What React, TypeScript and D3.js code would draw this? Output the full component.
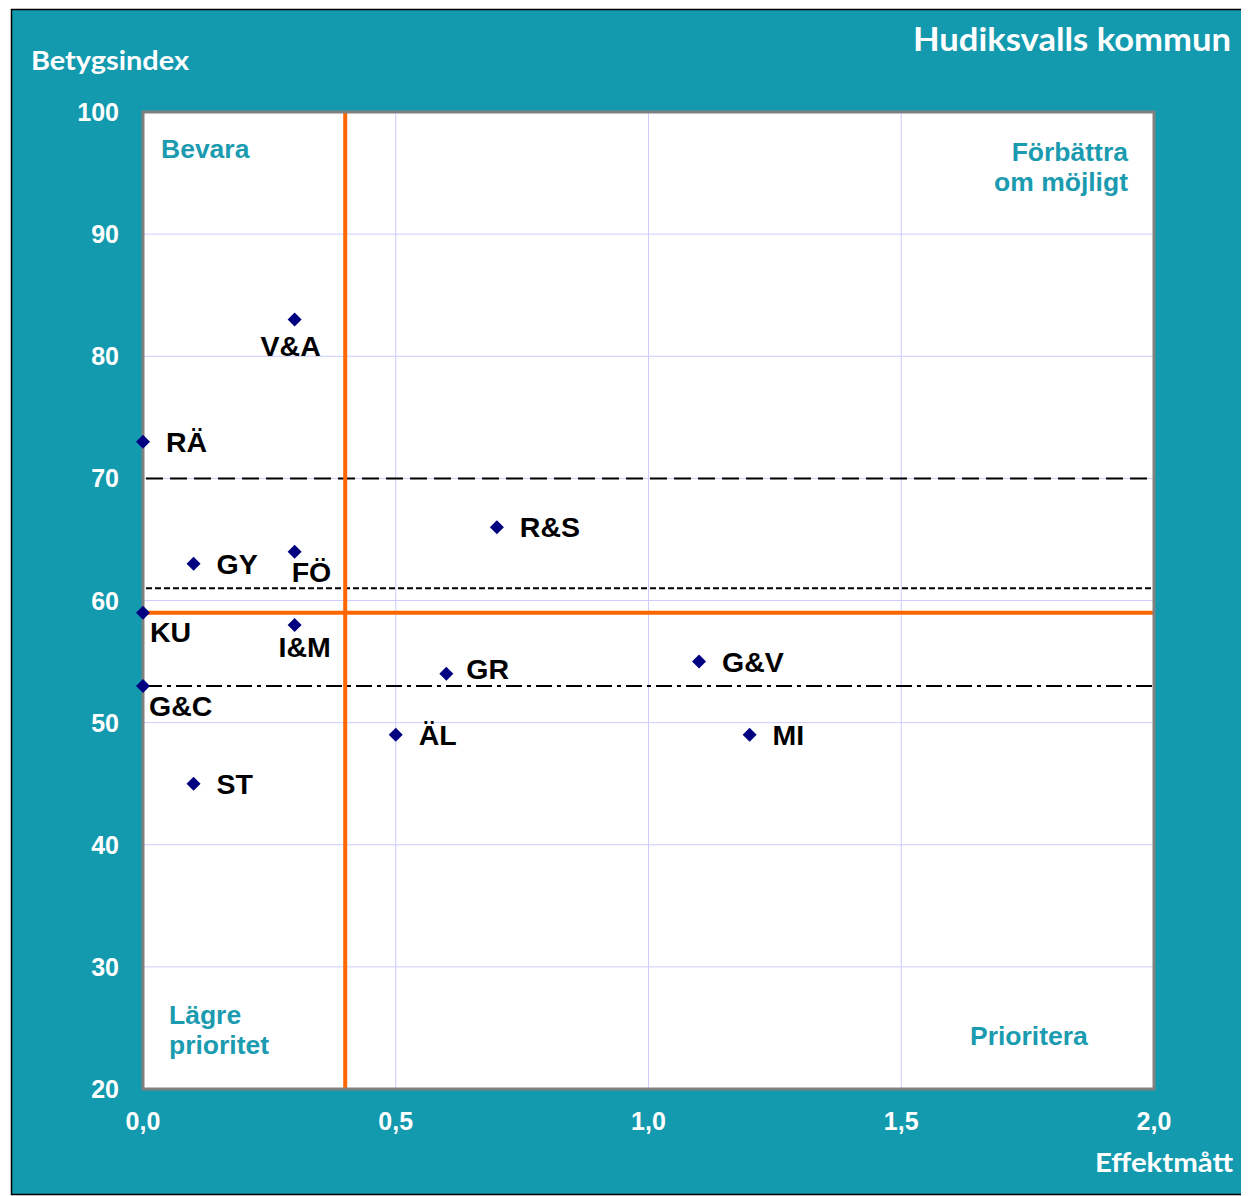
import React from "react";
import * as d3 from "d3";

const labels = ["V&A", "RÄ", "R&S", "GY", "FÖ", "KU", "I&M", "GR", "G&V", "G&C", "ÄL", "MI", "ST"];
const effekt = [0.3, 0, 0.7, 0.1, 0.3, 0, 0.3, 0.6, 1.1, 0, 0.5, 1.2, 0.1];
const betyg = [83, 73, 66, 63, 64, 59, 58, 54, 55, 53, 49, 49, 45];
// label placement: [dx, dy, anchor]
const labelPos: [number, number, string][] = [
  [-4, 36, "middle"], [23, 10, "start"], [23, 10, "start"], [23, 10, "start"], [-3, 30, "start"],
  [7, 29, "start"], [10, 32, "middle"], [20, 5, "start"], [23, 10, "start"], [6, 30, "start"],
  [23, 10, "start"], [23, 10, "start"], [23, 10, "start"],
];
const xTicks = [0, 0.5, 1, 1.5, 2];
const yTicks = [20, 30, 40, 50, 60, 70, 80, 90, 100];
const orangeX = 0.4;
const orangeY = 59;
const refLines = [
  { y: 70, dash: "17,7" },
  { y: 61, dash: "6,3" },
  { y: 53, dash: "16,5,4,5" },
];

const TEAL = "#139aaf";
const QTEAL = "#1b9bb0";

export default function App() {
  const L = 143, R = 1154, T = 112, B = 1089;
  const x = d3.scaleLinear().domain([0, 2]).range([L, R]);
  const y = d3.scaleLinear().domain([20, 100]).range([B, T]);
  const diamond = "M0,-7L7,0L0,7L-7,0Z";
  const fmt = (v: number) => v.toFixed(1).replace(".", ",");
  const calibri = "Lato, 'Open Sans', sans-serif";
  const arial = "'Liberation Sans', Arial, sans-serif";
  return (
    <svg width={1241} height={1188} style={{ display: "block" }}>
      <g transform="translate(-8,-8)">
        <rect x={11.5} y={9.5} width={1236} height={1185} fill={TEAL} stroke="#000" strokeWidth={1.5} />
        <rect x={L} y={T} width={R - L} height={B - T} fill="#fff" />
        {yTicks.map((t) => (
          <line key={"gy" + t} x1={L} x2={R} y1={y(t)} y2={y(t)} stroke="#ccccff" strokeWidth={1} />
        ))}
        {xTicks.map((t) => (
          <line key={"gx" + t} x1={x(t)} x2={x(t)} y1={T} y2={B} stroke="#ccccff" strokeWidth={1} />
        ))}
        {refLines.map((r) => (
          <line key={"r" + r.y} x1={L + 3} x2={R} y1={y(r.y)} y2={y(r.y)} stroke="#000" strokeWidth={2} strokeDasharray={r.dash} />
        ))}
        <line x1={x(orangeX)} x2={x(orangeX)} y1={T} y2={B} stroke="#ff6600" strokeWidth={4} />
        <line x1={L} x2={R} y1={y(orangeY)} y2={y(orangeY)} stroke="#ff6600" strokeWidth={4} />
        <rect x={L} y={T} width={R - L} height={B - T} fill="none" stroke="#808080" strokeWidth={3} />
        {labels.map((lb, i) => (
          <g key={lb}>
            <path d={diamond} transform={`translate(${x(effekt[i])},${y(betyg[i])})`} fill="#000080" />
            <text
              x={x(effekt[i]) + labelPos[i][0]}
              y={y(betyg[i]) + labelPos[i][1]}
              textAnchor={labelPos[i][2] as any}
              fontFamily={arial}
              fontWeight="bold"
              fontSize={28.5}
              fill="#000"
            >
              {lb}
            </text>
          </g>
        ))}
        {yTicks.map((t) => (
          <text key={"ty" + t} x={119} y={y(t) + 9} textAnchor="end" fontFamily={arial} fontWeight="bold" fontSize={25} fill="#fff">
            {t}
          </text>
        ))}
        {xTicks.map((t) => (
          <text key={"tx" + t} x={x(t)} y={1130} textAnchor="middle" fontFamily={arial} fontWeight="bold" fontSize={25} fill="#fff">
            {fmt(t)}
          </text>
        ))}
        <text x={31} y={70} fontFamily={calibri} fontWeight="bold" fontSize={27} fill="#fff" textLength={158} lengthAdjust="spacingAndGlyphs">Betygsindex</text>
        <text x={913} y={51} fontFamily={calibri} fontWeight="bold" fontSize={32} fill="#fff" textLength={318} lengthAdjust="spacingAndGlyphs">Hudiksvalls kommun</text>
        <text x={1095} y={1172} fontFamily={calibri} fontWeight="bold" fontSize={27} fill="#fff" textLength={138} lengthAdjust="spacingAndGlyphs">Effektmått</text>
        <g fontFamily={arial} fontWeight="bold" fontSize={26.5} fill={QTEAL}>
          <text x={161} y={158}>Bevara</text>
          <text x={1128} y={161} textAnchor="end">Förbättra</text>
          <text x={1128} y={191} textAnchor="end">om möjligt</text>
          <text x={169} y={1024}>Lägre</text>
          <text x={169} y={1054}>prioritet</text>
          <text x={970} y={1045}>Prioritera</text>
        </g>
      </g>
    </svg>
  );
}
